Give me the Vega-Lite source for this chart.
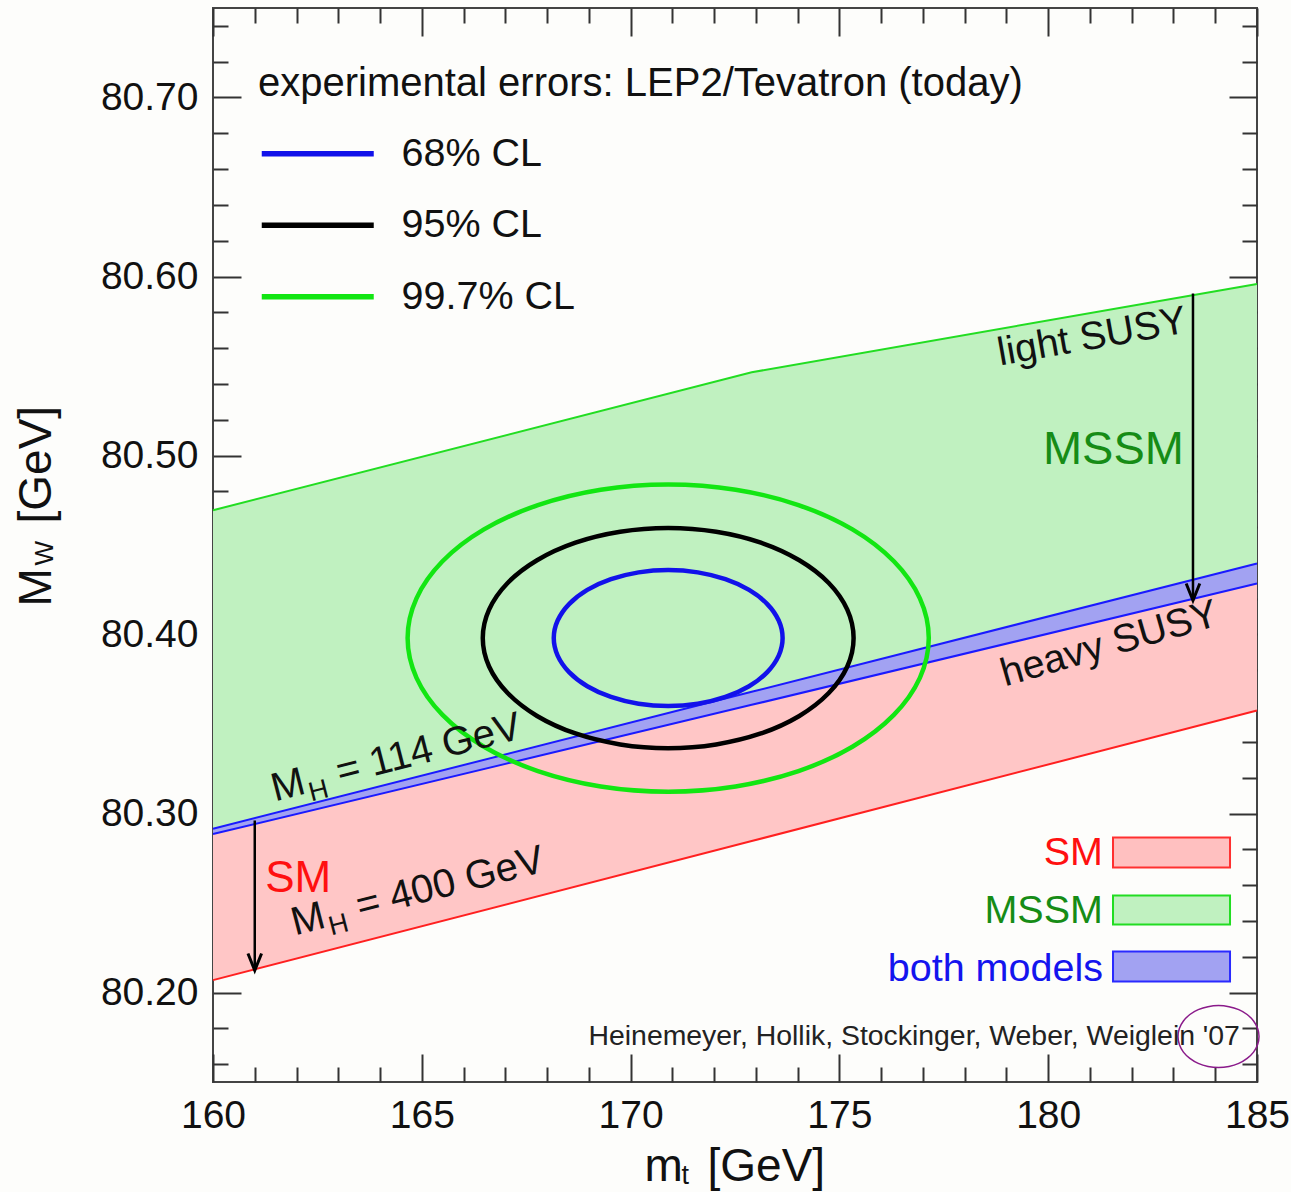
{
  "$schema": "https://vega.github.io/schema/vega-lite/v6.json",
  "width": 1044,
  "height": 1074,
  "autosize": {"type": "none"},
  "padding": {"left": 213, "top": 8, "right": 34, "bottom": 110},
  "background": "#fdfdfb",
  "config": {
    "view": {"stroke": "#444444", "strokeWidth": 2},
    "axis": {"grid": false, "domain": false, "tickColor": "#333333", "tickWidth": 2, "labelFont": "Liberation Sans", "labelFontSize": 39, "labelColor": "#111111", "titleFont": "Liberation Sans", "titleFontSize": 46, "titleFontWeight": "normal", "titleColor": "#111111"},
    "text": {"font": "Liberation Sans"}
  },
  "resolve": {"axis": {"x": "independent", "y": "independent"}},
  "layer": [
    {
      "data": {"values": [{"mt": 160, "lo": 80.2885, "hi": 80.4694}, {"mt": 172.9, "lo": 80.3607, "hi": 80.5465}, {"mt": 185, "lo": 80.4285, "hi": 80.5958}]},
      "mark": {"type": "area", "color": "#c0f1c0", "opacity": 1},
      "encoding": {
        "x": {"field": "mt", "type": "quantitative", "scale": {"domain": [160, 185], "nice": false, "zero": false},
          "axis": {"orient": "bottom", "values": [160, 165, 170, 175, 180, 185], "format": "d", "tickSize": -28, "labelPadding": 42, "labelFlush": false, "title": "m", "titleX": 431, "titleY": 98, "titleAlign": "left", "titleBaseline": "alphabetic"}},
        "y": {"field": "hi", "type": "quantitative", "scale": {"domain": [80.15, 80.75], "nice": false, "zero": false},
          "axis": {"orient": "left", "values": [80.2, 80.3, 80.4, 80.5, 80.6, 80.7], "format": ".2f", "tickSize": -28, "labelPadding": 43, "title": "M", "titleX": -163, "titleY": 598, "titleAngle": 270, "titleAlign": "left", "titleBaseline": "alphabetic"}},
        "y2": {"field": "lo"}
      }
    },
    {
      "data": {"values": [{"mt": 160, "lo": 80.2069, "hi": 80.2915}, {"mt": 172.9, "lo": 80.2846, "hi": 80.368}, {"mt": 185, "lo": 80.3575, "hi": 80.4397}]},
      "mark": {"type": "area", "color": "#ffc6c6", "opacity": 1},
      "encoding": {
        "x": {"field": "mt", "type": "quantitative", "scale": {"domain": [160, 185], "nice": false, "zero": false},
          "axis": {"orient": "bottom", "values": [161, 162, 163, 164, 166, 167, 168, 169, 171, 172, 173, 174, 176, 177, 178, 179, 181, 182, 183, 184], "tickSize": -15, "labels": false, "title": "t", "titleX": 468, "titleY": 101, "titleAlign": "left", "titleBaseline": "alphabetic", "titleFontSize": 27}},
        "y": {"field": "hi", "type": "quantitative", "scale": {"domain": [80.15, 80.75], "nice": false, "zero": false},
          "axis": {"orient": "left", "values": [80.16, 80.18, 80.22, 80.24, 80.26, 80.28, 80.32, 80.34, 80.36, 80.38, 80.42, 80.44, 80.46, 80.48, 80.52, 80.54, 80.56, 80.58, 80.62, 80.64, 80.66, 80.68, 80.72, 80.74], "tickSize": -15, "labels": false, "title": "W", "titleX": -161, "titleY": 557, "titleAngle": 270, "titleAlign": "left", "titleBaseline": "alphabetic", "titleFontSize": 26}},
        "y2": {"field": "lo"}
      }
    },
    {
      "data": {"values": [{"mt": 160, "lo": 80.2885, "hi": 80.2915}, {"mt": 172.9, "lo": 80.3607, "hi": 80.368}, {"mt": 185, "lo": 80.4285, "hi": 80.4397}]},
      "mark": {"type": "area", "color": "#a2a2f2", "opacity": 1},
      "encoding": {
        "x": {"field": "mt", "type": "quantitative", "scale": {"domain": [160, 185], "nice": false, "zero": false},
          "axis": {"orient": "bottom", "ticks": false, "labels": false, "title": "[GeV]", "titleX": 494, "titleY": 98, "titleAlign": "left", "titleBaseline": "alphabetic"}},
        "y": {"field": "hi", "type": "quantitative", "scale": {"domain": [80.15, 80.75], "nice": false, "zero": false},
          "axis": {"orient": "left", "ticks": false, "labels": false, "title": "[GeV]", "titleX": -163, "titleY": 515, "titleAngle": 270, "titleAlign": "left", "titleBaseline": "alphabetic"}},
        "y2": {"field": "lo"}
      }
    },
    {
      "data": {"values": [{"mt": 160, "mw": 80.4694}, {"mt": 172.9, "mw": 80.5465}, {"mt": 185, "mw": 80.5958}]},
      "mark": {"type": "line", "color": "#22dd22", "strokeWidth": 2},
      "encoding": {
        "x": {"field": "mt", "type": "quantitative", "scale": {"domain": [160, 185], "nice": false, "zero": false},
          "axis": {"orient": "top", "values": [160, 165, 170, 175, 180, 185], "tickSize": -28, "labels": false, "title": null}},
        "y": {"field": "mw", "type": "quantitative", "scale": {"domain": [80.15, 80.75], "nice": false, "zero": false},
          "axis": {"orient": "right", "values": [80.2, 80.3, 80.4, 80.5, 80.6, 80.7], "tickSize": -28, "labels": false, "title": null}}
      }
    },
    {
      "data": {"values": [{"mt": 160, "mw": 80.2069}, {"mt": 172.9, "mw": 80.2846}, {"mt": 185, "mw": 80.3575}]},
      "mark": {"type": "line", "color": "#ff2020", "strokeWidth": 2},
      "encoding": {
        "x": {"field": "mt", "type": "quantitative", "scale": {"domain": [160, 185], "nice": false, "zero": false},
          "axis": {"orient": "top", "values": [161, 162, 163, 164, 166, 167, 168, 169, 171, 172, 173, 174, 176, 177, 178, 179, 181, 182, 183, 184], "tickSize": -15, "labels": false, "title": null}},
        "y": {"field": "mw", "type": "quantitative", "scale": {"domain": [80.15, 80.75], "nice": false, "zero": false},
          "axis": {"orient": "right", "values": [80.16, 80.18, 80.22, 80.24, 80.26, 80.28, 80.32, 80.34, 80.36, 80.38, 80.42, 80.44, 80.46, 80.48, 80.52, 80.54, 80.56, 80.58, 80.62, 80.64, 80.66, 80.68, 80.72, 80.74], "tickSize": -15, "labels": false, "title": null}}
      }
    },
    {
      "data": {"values": [{"edge": "lower", "mt": 160, "mw": 80.2885}, {"edge": "lower", "mt": 172.9, "mw": 80.3607}, {"edge": "lower", "mt": 185, "mw": 80.4285}, {"edge": "upper", "mt": 160, "mw": 80.2915}, {"edge": "upper", "mt": 172.9, "mw": 80.368}, {"edge": "upper", "mt": 185, "mw": 80.4397}]},
      "mark": {"type": "line", "color": "#1a1aff", "strokeWidth": 2},
      "encoding": {
        "x": {"field": "mt", "type": "quantitative", "scale": {"domain": [160, 185], "nice": false, "zero": false}, "axis": null},
        "y": {"field": "mw", "type": "quantitative", "scale": {"domain": [80.15, 80.75], "nice": false, "zero": false}, "axis": null},
        "detail": {"field": "edge"}
      }
    },
    {
      "data": {"values": [
        {"cl": "68% CL", "i": 0, "mt": 173.64, "mw": 80.398}, {"cl": "68% CL", "i": 1, "mt": 173.547, "mw": 80.4078}, {"cl": "68% CL", "i": 2, "mt": 173.273, "mw": 80.417}, {"cl": "68% CL", "i": 3, "mt": 172.837, "mw": 80.4249}, {"cl": "68% CL", "i": 4, "mt": 172.27, "mw": 80.4309}, {"cl": "68% CL", "i": 5, "mt": 171.609, "mw": 80.4347}, {"cl": "68% CL", "i": 6, "mt": 170.9, "mw": 80.436}, {"cl": "68% CL", "i": 7, "mt": 170.191, "mw": 80.4347}, {"cl": "68% CL", "i": 8, "mt": 169.53, "mw": 80.4309}, {"cl": "68% CL", "i": 9, "mt": 168.963, "mw": 80.4249}, {"cl": "68% CL", "i": 10, "mt": 168.527, "mw": 80.417}, {"cl": "68% CL", "i": 11, "mt": 168.253, "mw": 80.4078}, {"cl": "68% CL", "i": 12, "mt": 168.16, "mw": 80.398}, {"cl": "68% CL", "i": 13, "mt": 168.253, "mw": 80.3882}, {"cl": "68% CL", "i": 14, "mt": 168.527, "mw": 80.379}, {"cl": "68% CL", "i": 15, "mt": 168.963, "mw": 80.3711}, {"cl": "68% CL", "i": 16, "mt": 169.53, "mw": 80.3651}, {"cl": "68% CL", "i": 17, "mt": 170.191, "mw": 80.3613}, {"cl": "68% CL", "i": 18, "mt": 170.9, "mw": 80.36}, {"cl": "68% CL", "i": 19, "mt": 171.609, "mw": 80.3613}, {"cl": "68% CL", "i": 20, "mt": 172.27, "mw": 80.3651}, {"cl": "68% CL", "i": 21, "mt": 172.837, "mw": 80.3711}, {"cl": "68% CL", "i": 22, "mt": 173.273, "mw": 80.379}, {"cl": "68% CL", "i": 23, "mt": 173.547, "mw": 80.3882},
        {"cl": "95% CL", "i": 0, "mt": 175.34, "mw": 80.398}, {"cl": "95% CL", "i": 1, "mt": 175.189, "mw": 80.4139}, {"cl": "95% CL", "i": 2, "mt": 174.745, "mw": 80.4288}, {"cl": "95% CL", "i": 3, "mt": 174.04, "mw": 80.4415}, {"cl": "95% CL", "i": 4, "mt": 173.12, "mw": 80.4513}, {"cl": "95% CL", "i": 5, "mt": 172.049, "mw": 80.4574}, {"cl": "95% CL", "i": 6, "mt": 170.9, "mw": 80.4595}, {"cl": "95% CL", "i": 7, "mt": 169.751, "mw": 80.4574}, {"cl": "95% CL", "i": 8, "mt": 168.68, "mw": 80.4513}, {"cl": "95% CL", "i": 9, "mt": 167.76, "mw": 80.4415}, {"cl": "95% CL", "i": 10, "mt": 167.055, "mw": 80.4288}, {"cl": "95% CL", "i": 11, "mt": 166.611, "mw": 80.4139}, {"cl": "95% CL", "i": 12, "mt": 166.46, "mw": 80.398}, {"cl": "95% CL", "i": 13, "mt": 166.611, "mw": 80.3821}, {"cl": "95% CL", "i": 14, "mt": 167.055, "mw": 80.3673}, {"cl": "95% CL", "i": 15, "mt": 167.76, "mw": 80.3545}, {"cl": "95% CL", "i": 16, "mt": 168.68, "mw": 80.3447}, {"cl": "95% CL", "i": 17, "mt": 169.751, "mw": 80.3386}, {"cl": "95% CL", "i": 18, "mt": 170.9, "mw": 80.3365}, {"cl": "95% CL", "i": 19, "mt": 172.049, "mw": 80.3386}, {"cl": "95% CL", "i": 20, "mt": 173.12, "mw": 80.3447}, {"cl": "95% CL", "i": 21, "mt": 174.04, "mw": 80.3545}, {"cl": "95% CL", "i": 22, "mt": 174.745, "mw": 80.3673}, {"cl": "95% CL", "i": 23, "mt": 175.189, "mw": 80.3821},
        {"cl": "99.7% CL", "i": 0, "mt": 177.14, "mw": 80.398}, {"cl": "99.7% CL", "i": 1, "mt": 176.927, "mw": 80.4202}, {"cl": "99.7% CL", "i": 2, "mt": 176.304, "mw": 80.4409}, {"cl": "99.7% CL", "i": 3, "mt": 175.312, "mw": 80.4587}, {"cl": "99.7% CL", "i": 4, "mt": 174.02, "mw": 80.4723}, {"cl": "99.7% CL", "i": 5, "mt": 172.515, "mw": 80.4809}, {"cl": "99.7% CL", "i": 6, "mt": 170.9, "mw": 80.4838}, {"cl": "99.7% CL", "i": 7, "mt": 169.285, "mw": 80.4809}, {"cl": "99.7% CL", "i": 8, "mt": 167.78, "mw": 80.4723}, {"cl": "99.7% CL", "i": 9, "mt": 166.488, "mw": 80.4587}, {"cl": "99.7% CL", "i": 10, "mt": 165.496, "mw": 80.4409}, {"cl": "99.7% CL", "i": 11, "mt": 164.873, "mw": 80.4202}, {"cl": "99.7% CL", "i": 12, "mt": 164.66, "mw": 80.398}, {"cl": "99.7% CL", "i": 13, "mt": 164.873, "mw": 80.3758}, {"cl": "99.7% CL", "i": 14, "mt": 165.496, "mw": 80.3551}, {"cl": "99.7% CL", "i": 15, "mt": 166.488, "mw": 80.3373}, {"cl": "99.7% CL", "i": 16, "mt": 167.78, "mw": 80.3237}, {"cl": "99.7% CL", "i": 17, "mt": 169.285, "mw": 80.3151}, {"cl": "99.7% CL", "i": 18, "mt": 170.9, "mw": 80.3122}, {"cl": "99.7% CL", "i": 19, "mt": 172.515, "mw": 80.3151}, {"cl": "99.7% CL", "i": 20, "mt": 174.02, "mw": 80.3237}, {"cl": "99.7% CL", "i": 21, "mt": 175.312, "mw": 80.3373}, {"cl": "99.7% CL", "i": 22, "mt": 176.304, "mw": 80.3551}, {"cl": "99.7% CL", "i": 23, "mt": 176.927, "mw": 80.3758}
      ]},
      "mark": {"type": "line", "strokeWidth": 4.5, "interpolate": "cardinal-closed"},
      "encoding": {
        "x": {"field": "mt", "type": "quantitative", "scale": {"domain": [160, 185], "nice": false, "zero": false}, "axis": null},
        "y": {"field": "mw", "type": "quantitative", "scale": {"domain": [80.15, 80.75], "nice": false, "zero": false}, "axis": null},
        "order": {"field": "i", "type": "quantitative"},
        "color": {"field": "cl", "type": "nominal",
          "scale": {"domain": ["68% CL", "95% CL", "99.7% CL"], "range": ["#1212ea", "#000000", "#12e612"]},
          "legend": {"orient": "none", "legendX": 45, "legendY": 56, "padding": 0, "offset": 0,
            "title": "experimental errors: LEP2/Tevatron (today)", "titleFont": "Liberation Sans", "titleFontSize": 40, "titleFontWeight": "normal", "titleColor": "#111111", "titleLimit": 1000, "titlePadding": 30,
            "labelFont": "Liberation Sans", "labelFontSize": 39.5, "labelColor": "#111111", "labelLimit": 400, "labelOffset": 104,
            "symbolType": "M-1,0H6", "symbolSize": 1024, "symbolStrokeWidth": 5.5, "rowPadding": 30.5}}
      }
    },
    {
      "data": {"values": [
        {"i": 0, "mt": 185.048, "mw": 80.1754}, {"i": 1, "mt": 185.015, "mw": 80.1799}, {"i": 2, "mt": 184.918, "mw": 80.1841}, {"i": 3, "mt": 184.764, "mw": 80.1877}, {"i": 4, "mt": 184.563, "mw": 80.1904}, {"i": 5, "mt": 184.329, "mw": 80.1921}, {"i": 6, "mt": 184.078, "mw": 80.1927}, {"i": 7, "mt": 183.827, "mw": 80.1921}, {"i": 8, "mt": 183.593, "mw": 80.1904}, {"i": 9, "mt": 183.392, "mw": 80.1877}, {"i": 10, "mt": 183.238, "mw": 80.1841}, {"i": 11, "mt": 183.141, "mw": 80.1799}, {"i": 12, "mt": 183.108, "mw": 80.1754}, {"i": 13, "mt": 183.141, "mw": 80.1709}, {"i": 14, "mt": 183.238, "mw": 80.1667}, {"i": 15, "mt": 183.392, "mw": 80.1632}, {"i": 16, "mt": 183.593, "mw": 80.1604}, {"i": 17, "mt": 183.827, "mw": 80.1587}, {"i": 18, "mt": 184.078, "mw": 80.1581}, {"i": 19, "mt": 184.329, "mw": 80.1587}, {"i": 20, "mt": 184.563, "mw": 80.1604}, {"i": 21, "mt": 184.764, "mw": 80.1632}, {"i": 22, "mt": 184.918, "mw": 80.1667}, {"i": 23, "mt": 185.015, "mw": 80.1709}
      ]},
      "mark": {"type": "line", "color": "#8a1a8a", "strokeWidth": 1.5, "interpolate": "cardinal-closed"},
      "encoding": {
        "x": {"field": "mt", "type": "quantitative", "scale": {"domain": [160, 185], "nice": false, "zero": false}, "axis": null},
        "y": {"field": "mw", "type": "quantitative", "scale": {"domain": [80.15, 80.75], "nice": false, "zero": false}, "axis": null},
        "order": {"field": "i", "type": "quantitative"}
      }
    },
    {
      "data": {"values": [{"mt": 183.467, "top": 80.5905, "tip": 80.419}, {"mt": 161.0, "top": 80.2961, "tip": 80.2123}]},
      "mark": {"type": "rule", "color": "#000000", "strokeWidth": 2.5},
      "encoding": {
        "x": {"field": "mt", "type": "quantitative", "scale": {"domain": [160, 185], "nice": false, "zero": false}, "axis": null},
        "y": {"field": "top", "type": "quantitative", "scale": {"domain": [80.15, 80.75], "nice": false, "zero": false}, "axis": null},
        "y2": {"field": "tip"}
      }
    },
    {
      "data": {"values": [{"mt": 183.467, "tip": 80.419}, {"mt": 161.0, "tip": 80.2123}]},
      "mark": {"type": "point", "shape": "M-0.4,-1L0,0L0.4,-1", "size": 1156, "filled": false, "stroke": "#000000", "strokeWidth": 3, "opacity": 1},
      "encoding": {
        "x": {"field": "mt", "type": "quantitative", "scale": {"domain": [160, 185], "nice": false, "zero": false}, "axis": null},
        "y": {"field": "tip", "type": "quantitative", "scale": {"domain": [80.15, 80.75], "nice": false, "zero": false}, "axis": null}
      }
    },
    {
      "data": {"values": [{"mt": 184.59, "mw": 80.1704, "label": "Heinemeyer, Hollik, Stockinger, Weber, Weiglein '07"}]},
      "mark": {"type": "text", "align": "right", "baseline": "alphabetic", "fontSize": 28.4, "color": "#222222"},
      "encoding": {
        "x": {"field": "mt", "type": "quantitative", "scale": {"domain": [160, 185], "nice": false, "zero": false}, "axis": null},
        "y": {"field": "mw", "type": "quantitative", "scale": {"domain": [80.15, 80.75], "nice": false, "zero": false}, "axis": null},
        "text": {"field": "label"}
      }
    },
    {
      "data": {"values": [{"mt": 183.25, "mw": 80.495, "label": "MSSM"}]},
      "mark": {"type": "text", "align": "right", "baseline": "alphabetic", "fontSize": 47, "color": "#168c16"},
      "encoding": {
        "x": {"field": "mt", "type": "quantitative", "scale": {"domain": [160, 185], "nice": false, "zero": false}, "axis": null},
        "y": {"field": "mw", "type": "quantitative", "scale": {"domain": [80.15, 80.75], "nice": false, "zero": false}, "axis": null},
        "text": {"field": "label"}
      }
    },
    {
      "data": {"values": [{"mt": 161.25, "mw": 80.2564, "label": "SM"}]},
      "mark": {"type": "text", "align": "left", "baseline": "alphabetic", "fontSize": 44, "color": "#ff1010"},
      "encoding": {
        "x": {"field": "mt", "type": "quantitative", "scale": {"domain": [160, 185], "nice": false, "zero": false}, "axis": null},
        "y": {"field": "mw", "type": "quantitative", "scale": {"domain": [80.15, 80.75], "nice": false, "zero": false}, "axis": null},
        "text": {"field": "label"}
      }
    },
    {
      "data": {"values": [{"mt": 178.846, "mw": 80.5503, "label": "light SUSY"}]},
      "mark": {"type": "text", "align": "left", "baseline": "alphabetic", "fontSize": 39.5, "angle": -10, "color": "#111111"},
      "encoding": {
        "x": {"field": "mt", "type": "quantitative", "scale": {"domain": [160, 185], "nice": false, "zero": false}, "axis": null},
        "y": {"field": "mw", "type": "quantitative", "scale": {"domain": [80.15, 80.75], "nice": false, "zero": false}, "axis": null},
        "text": {"field": "label"}
      }
    },
    {
      "data": {"values": [{"mt": 178.966, "mw": 80.371, "label": "heavy SUSY"}]},
      "mark": {"type": "text", "align": "left", "baseline": "alphabetic", "fontSize": 39.5, "angle": -16, "color": "#111111"},
      "encoding": {
        "x": {"field": "mt", "type": "quantitative", "scale": {"domain": [160, 185], "nice": false, "zero": false}, "axis": null},
        "y": {"field": "mw", "type": "quantitative", "scale": {"domain": [80.15, 80.75], "nice": false, "zero": false}, "axis": null},
        "text": {"field": "label"}
      }
    },
    {
      "data": {"values": [{"mt": 161.485, "mw": 80.3067, "label": "M"}, {"mt": 161.964, "mw": 80.2318, "label": "M"}]},
      "mark": {"type": "text", "align": "left", "baseline": "alphabetic", "fontSize": 40, "angle": -14.4, "color": "#111111"},
      "encoding": {
        "x": {"field": "mt", "type": "quantitative", "scale": {"domain": [160, 185], "nice": false, "zero": false}, "axis": null},
        "y": {"field": "mw", "type": "quantitative", "scale": {"domain": [80.15, 80.75], "nice": false, "zero": false}, "axis": null},
        "text": {"field": "label"}
      }
    },
    {
      "data": {"values": [{"mt": 161.485, "mw": 80.3067, "label": "H"}, {"mt": 161.964, "mw": 80.2318, "label": "H"}]},
      "mark": {"type": "text", "align": "left", "baseline": "alphabetic", "fontSize": 27, "angle": -14.4, "dx": 35, "dy": 9, "color": "#111111"},
      "encoding": {
        "x": {"field": "mt", "type": "quantitative", "scale": {"domain": [160, 185], "nice": false, "zero": false}, "axis": null},
        "y": {"field": "mw", "type": "quantitative", "scale": {"domain": [80.15, 80.75], "nice": false, "zero": false}, "axis": null},
        "text": {"field": "label"}
      }
    },
    {
      "data": {"values": [{"mt": 161.485, "mw": 80.3067, "label": "= 114 GeV"}, {"mt": 161.964, "mw": 80.2318, "label": "= 400 GeV"}]},
      "mark": {"type": "text", "align": "left", "baseline": "alphabetic", "fontSize": 40, "angle": -14.4, "dx": 67, "color": "#111111"},
      "encoding": {
        "x": {"field": "mt", "type": "quantitative", "scale": {"domain": [160, 185], "nice": false, "zero": false}, "axis": null},
        "y": {"field": "mw", "type": "quantitative", "scale": {"domain": [80.15, 80.75], "nice": false, "zero": false}, "axis": null},
        "text": {"field": "label"}
      }
    },
    {
      "data": {"values": [{"mt": 181.552, "mt2": 184.354, "lo": 80.2698, "hi": 80.2866}]},
      "mark": {"type": "rect", "fill": "#ffc0c0", "stroke": "#ff3030", "strokeWidth": 2},
      "encoding": {
        "x": {"field": "mt", "type": "quantitative", "scale": {"domain": [160, 185], "nice": false, "zero": false}, "axis": null},
        "x2": {"field": "mt2"},
        "y": {"field": "hi", "type": "quantitative", "scale": {"domain": [80.15, 80.75], "nice": false, "zero": false}, "axis": null},
        "y2": {"field": "lo"}
      }
    },
    {
      "data": {"values": [{"mt": 181.552, "mt2": 184.354, "lo": 80.238, "hi": 80.2542}]},
      "mark": {"type": "rect", "fill": "#c0f1c0", "stroke": "#22dd22", "strokeWidth": 2},
      "encoding": {
        "x": {"field": "mt", "type": "quantitative", "scale": {"domain": [160, 185], "nice": false, "zero": false}, "axis": null},
        "x2": {"field": "mt2"},
        "y": {"field": "hi", "type": "quantitative", "scale": {"domain": [80.15, 80.75], "nice": false, "zero": false}, "axis": null},
        "y2": {"field": "lo"}
      }
    },
    {
      "data": {"values": [{"mt": 181.552, "mt2": 184.354, "lo": 80.2061, "hi": 80.2229}]},
      "mark": {"type": "rect", "fill": "#a2a2f2", "stroke": "#2a2aff", "strokeWidth": 2},
      "encoding": {
        "x": {"field": "mt", "type": "quantitative", "scale": {"domain": [160, 185], "nice": false, "zero": false}, "axis": null},
        "x2": {"field": "mt2"},
        "y": {"field": "hi", "type": "quantitative", "scale": {"domain": [80.15, 80.75], "nice": false, "zero": false}, "axis": null},
        "y2": {"field": "lo"}
      }
    },
    {
      "data": {"values": [{"mt": 181.31, "mw": 80.271, "label": "SM"}]},
      "mark": {"type": "text", "align": "right", "baseline": "alphabetic", "fontSize": 39.5, "color": "#ff1010"},
      "encoding": {
        "x": {"field": "mt", "type": "quantitative", "scale": {"domain": [160, 185], "nice": false, "zero": false}, "axis": null},
        "y": {"field": "mw", "type": "quantitative", "scale": {"domain": [80.15, 80.75], "nice": false, "zero": false}, "axis": null},
        "text": {"field": "label"}
      }
    },
    {
      "data": {"values": [{"mt": 181.31, "mw": 80.2391, "label": "MSSM"}]},
      "mark": {"type": "text", "align": "right", "baseline": "alphabetic", "fontSize": 39.5, "color": "#168c16"},
      "encoding": {
        "x": {"field": "mt", "type": "quantitative", "scale": {"domain": [160, 185], "nice": false, "zero": false}, "axis": null},
        "y": {"field": "mw", "type": "quantitative", "scale": {"domain": [80.15, 80.75], "nice": false, "zero": false}, "axis": null},
        "text": {"field": "label"}
      }
    },
    {
      "data": {"values": [{"mt": 181.31, "mw": 80.2067, "label": "both models"}]},
      "mark": {"type": "text", "align": "right", "baseline": "alphabetic", "fontSize": 39.5, "color": "#1414ee"},
      "encoding": {
        "x": {"field": "mt", "type": "quantitative", "scale": {"domain": [160, 185], "nice": false, "zero": false}, "axis": null},
        "y": {"field": "mw", "type": "quantitative", "scale": {"domain": [80.15, 80.75], "nice": false, "zero": false}, "axis": null},
        "text": {"field": "label"}
      }
    }
  ]
}
